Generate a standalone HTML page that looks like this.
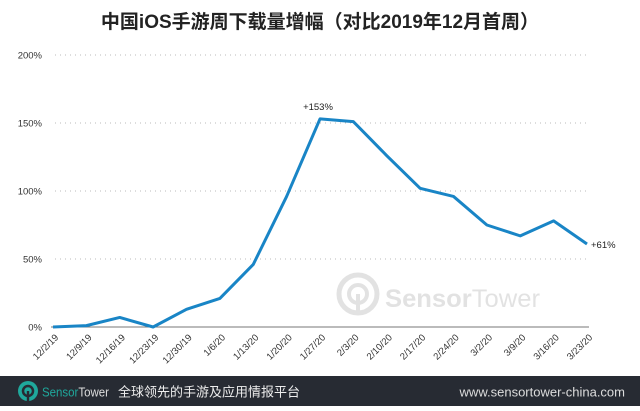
<!DOCTYPE html>
<html><head><meta charset="utf-8"><style>
body{margin:0;width:640px;height:406px;overflow:hidden;background:#fff;font-family:"Liberation Sans","Noto Sans CJK SC",sans-serif;}
#wrap{position:relative;width:640px;height:406px;}
#title{position:absolute;top:7px;left:0;width:640px;text-align:center;font-size:19px;font-weight:bold;color:#222;}
#footer{position:absolute;left:0;top:376px;width:640px;height:30px;background:#272b33;}
</style></head><body>
<div id="wrap">
<div id="title">中国iOS手游周下载量增幅（对比2019年12月首周）</div>
<svg id="chart" width="640" height="376" style="position:absolute;left:0;top:0">
<g opacity="0.28">
<circle cx="358" cy="294" r="19" fill="none" stroke="#999" stroke-width="5"/>
<circle cx="358" cy="294" r="9" fill="none" stroke="#999" stroke-width="4"/>
<rect x="356" y="294" width="4" height="21" fill="#999"/>
<text x="385" y="307" font-size="25" font-weight="bold" fill="#999" textLength="155" lengthAdjust="spacingAndGlyphs">Sensor<tspan font-weight="normal">Tower</tspan></text>
</g>
</svg>
<div id="footer">
<svg width="640" height="30">
<circle cx="28" cy="15" r="10" fill="#1fa89c"/>
<circle cx="28" cy="15" r="5" fill="none" stroke="#272b33" stroke-width="2.5"/>
<rect x="26.8" y="15" width="2.4" height="10" fill="#272b33"/>
<text x="42" y="20.5" font-size="13" fill="#1fa89c" textLength="67" lengthAdjust="spacingAndGlyphs">Sensor<tspan fill="#ddd">Tower</tspan></text>
<text x="118" y="20.5" font-size="13" fill="#eee">全球领先的手游及应用情报平台</text>
<text x="625" y="20.5" font-size="13" fill="#ddd" text-anchor="end">www.sensortower-china.com</text>
</svg>
</div>
</div>
<script>
const categories=["12/2/19","12/9/19","12/16/19","12/23/19","12/30/19","1/6/20","1/13/20","1/20/20","1/27/20","2/3/20","2/10/20","2/17/20","2/24/20","3/2/20","3/9/20","3/16/20","3/23/20"];
const values=[0,1,7,0,13,21,46,96,153,151,126,102,96,75,67,78,61];
const yTicks=[0,50,100,150,200];
const yTickLabels=["0%","50%","100%","150%","200%"];
const NS="http://www.w3.org/2000/svg";
const svg=document.getElementById("chart");
const x0=53,x1=587,yBase=327,yTop=55;
function xs(i){return x0+(x1-x0)*i/(categories.length-1);}
function ys(v){return yBase-(yBase-yTop)*v/200;}
function mk(tag,attrs){const e=document.createElementNS(NS,tag);for(const k in attrs)e.setAttribute(k,attrs[k]);svg.appendChild(e);return e;}
yTicks.forEach((t,i)=>{
 const y=ys(t);
 if(t>0){const g=mk("line",{x1:55,x2:x1,y1:y,y2:y,stroke:"#bbb","stroke-width":1,"stroke-dasharray":"1,4"});
 
 }
 const l=mk("text",{x:42,y:y+3.5,"font-size":9.5,fill:"#333","text-anchor":"end"});
 l.textContent=yTickLabels[i];
 
 
});
const ax=mk("line",{x1:51,x2:x1+2,y1:yBase,y2:yBase,stroke:"#777","stroke-width":1});


categories.forEach((c,i)=>{
 const x=xs(i)+6,y=yBase+11;
 const t=mk("text",{x:x,y:y,"font-size":9.5,fill:"#333","text-anchor":"end",transform:`rotate(-45 ${x} ${y})`});
 t.textContent=c;
 
 
});
const pts=values.map((v,i)=>xs(i)+","+ys(v)).join(" ");
const pl=mk("polyline",{points:pts,fill:"none",stroke:"#1985c6","stroke-width":3,"stroke-linejoin":"round"});


const pk=values.indexOf(Math.max(...values));
const a1=mk("text",{x:xs(pk)-2,y:ys(values[pk])-9,"font-size":9.5,fill:"#222","text-anchor":"middle"});
a1.textContent="+"+values[pk]+"%";


const li=values.length-1;
const a2=mk("text",{x:xs(li)+4,y:ys(values[li])+4,"font-size":9.5,fill:"#222"});
a2.textContent="+"+values[li]+"%";


</script>
</body></html>
